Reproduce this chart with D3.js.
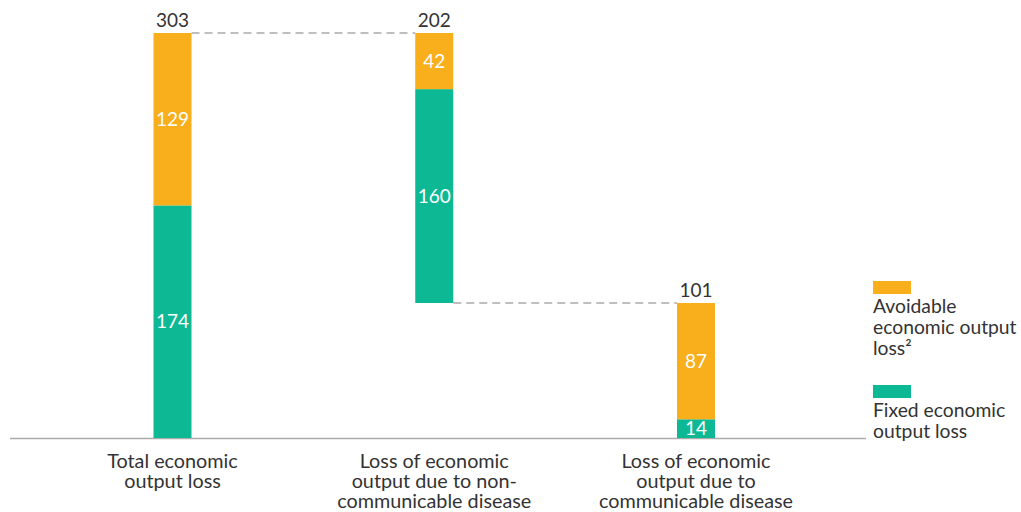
<!DOCTYPE html>
<html><head><meta charset="utf-8">
<script src="https://cdn.jsdelivr.net/npm/d3@7"></script>
<style>
body{margin:0;background:#fff;}
text{font-family:Lato,"Open Sans",sans-serif;}
</style></head>
<body>
<svg id="c" width="1021" height="512"></svg>
<script>
const categories = ["Total economic output loss","Loss of economic output due to non-communicable disease","Loss of economic output due to communicable disease"];
const categoryLines = [["Total economic","output loss"],["Loss of economic","output due to non-","communicable disease"],["Loss of economic","output due to","communicable disease"]];
const fixedValues = [174,160,14];
const avoidableValues = [129,42,87];
const baseValues = [0,101,0];
const totals = [303,202,101];
const seriesNames = ["Avoidable economic output loss²","Fixed economic output loss"];
const legendLines = [["Avoidable","economic output","loss²"],["Fixed economic","output loss"]];
const colors = {avoid:"#F9AE1B", fixed:"#0DB894"};

const svg = d3.select("#c");
const x = d3.scalePoint().domain(categories).range([172.5,696]);
const y = d3.scaleLinear().domain([0,303]).range([438,33]);
const bw = 38;

svg.append("line").attr("x1",10).attr("x2",866).attr("y1",y(0)+0.5).attr("y2",y(0)+0.5)
  .attr("stroke","#aaa").attr("stroke-width",1.5);

const conns = [[0,1,303],[1,2,101]];
conns.forEach(([a,b,v])=>{
  svg.append("line")
    .attr("x1",x(categories[a])+bw/2).attr("x2",x(categories[b])-bw/2)
    .attr("y1",y(v)).attr("y2",y(v))
    .attr("stroke","#aaa").attr("stroke-width",1.5).attr("stroke-dasharray","8,5");
});

categories.forEach((c,i)=>{
  const cx = x(c);
  const b0 = baseValues[i], f = fixedValues[i], a = avoidableValues[i];
  svg.append("rect").attr("x",cx-bw/2).attr("width",bw)
    .attr("y",y(b0+f)).attr("height",y(b0)-y(b0+f)).attr("fill",colors.fixed);
  svg.append("rect").attr("x",cx-bw/2).attr("width",bw)
    .attr("y",y(b0+f+a)).attr("height",y(b0+f)-y(b0+f+a)).attr("fill",colors.avoid);
  svg.append("text").attr("x",cx).attr("y",(y(b0)+y(b0+f))/2).attr("dy","0.35em")
    .attr("text-anchor","middle").attr("fill","#fff").attr("font-size",19).text(f);
  svg.append("text").attr("x",cx).attr("y",(y(b0+f)+y(b0+f+a))/2).attr("dy","0.35em")
    .attr("text-anchor","middle").attr("fill","#fff").attr("font-size",19).text(a);
  svg.append("text").attr("x",cx).attr("y",y(b0+f+a)-6)
    .attr("text-anchor","middle").attr("fill","#333").attr("font-size",19).text(totals[i]);
  const t = svg.append("text").attr("text-anchor","middle").attr("fill","#333").attr("font-size",19.8);
  categoryLines[i].forEach((l,j)=>{
    t.append("tspan").attr("x",cx).attr("y",468+j*20).text(l);
  });
});

const legY = [281,385];
const legCol = [colors.avoid, colors.fixed];
legendLines.forEach((lines,i)=>{
  svg.append("rect").attr("x",873).attr("y",legY[i]).attr("width",38).attr("height",13).attr("fill",legCol[i]);
  const t = svg.append("text").attr("fill","#333").attr("font-size",19.3);
  lines.forEach((l,j)=>{
    t.append("tspan").attr("x",873).attr("y",legY[i]+32+j*21).text(l);
  });
});
</script>
</body></html>
